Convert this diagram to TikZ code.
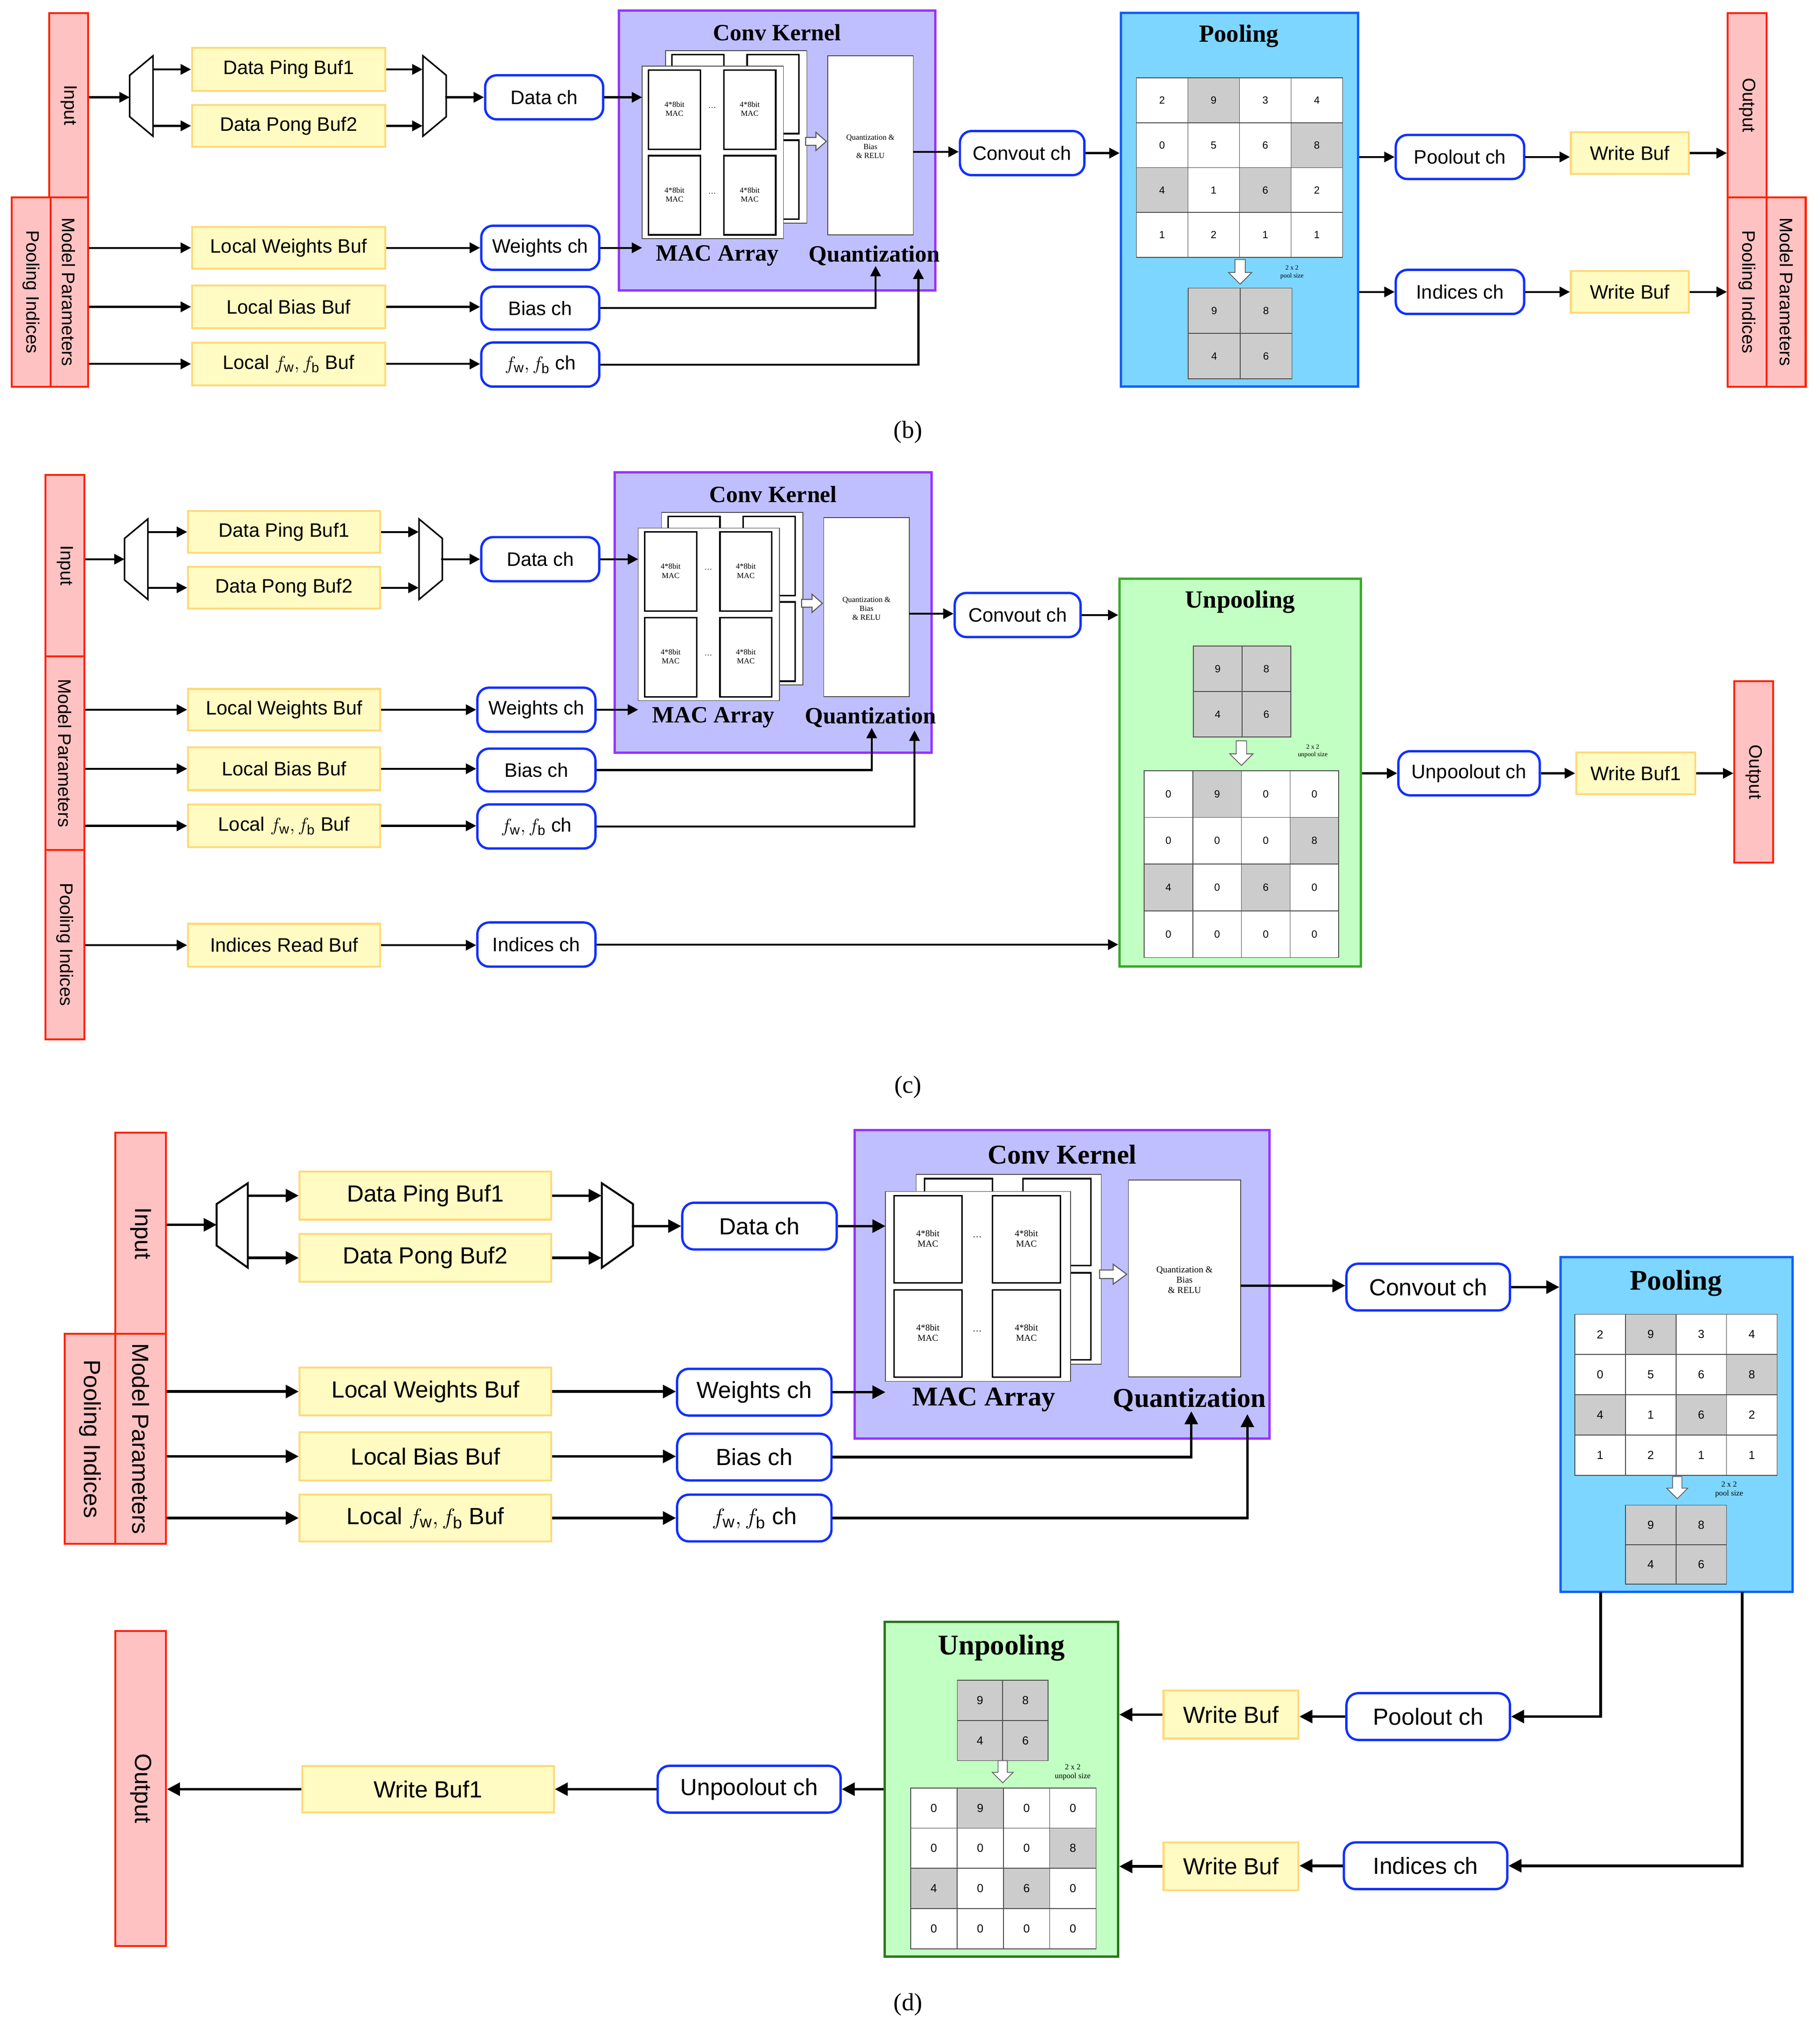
\documentclass[tikz,border=0pt]{standalone}
\usepackage{fontspec}
\setmainfont{Liberation Sans}
\newfontfamily\serifk{Liberation Serif}
\usetikzlibrary{fit,arrows.meta,calc}
\definecolor{pinkf}{HTML}{FFC2C2}\definecolor{redb}{HTML}{FF2200}
\definecolor{yelf}{HTML}{FFFBC2}\definecolor{yelb}{HTML}{FFD97A}
\definecolor{blueb}{HTML}{1030FF}
\definecolor{purf}{HTML}{BFBFFF}\definecolor{purb}{HTML}{9933FF}
\definecolor{poolf}{HTML}{7DD6FF}\definecolor{poolb}{HTML}{1060FF}
\definecolor{unpf}{HTML}{C2FFC2}\definecolor{unpb}{HTML}{3AAA2A}
\definecolor{cellg}{HTML}{CCCCCC}
\tikzset{x=1pt,y=-1pt,
 lbl/.style={draw=redb,fill=pinkf,line width=1.5pt,inner sep=0pt},
 buf/.style={draw=yelb,fill=yelf,line width=1.5pt,inner sep=0pt},
 chn/.style={draw=blueb,fill=white,line width=1.8pt,rounded corners=9pt,inner sep=0pt},
 poolbox/.style={draw=poolb,fill=poolf,line width=1.8pt,inner sep=0pt},
 unpbox/.style={draw=unpb,fill=unpf,line width=1.8pt,inner sep=0pt},
 arr/.style={line width=1.5pt,-{Triangle[length=8pt,width=8pt]}},
 arrd/.style={line width=2pt,-{Triangle[length=10pt,width=10pt]}},
 ln/.style={line width=1.2pt},
 hol/.style={draw=gray!70!black,fill=white,line width=0.6pt}}
\newcommand\bx[7]{\node[#1,fit={(#3,#4)(#5,#6)}] (#2) {};\node at (#2) {#7};}
\newcommand\vl[7]{\node[lbl,fit={(#2,#3)(#4,#5)}] (#1) {};\node[rotate=-90,font=#7] at (#1) {#6};}
\def\poolvals{1/1/2/0,2/1/9/1,3/1/3/0,4/1/4/0,1/2/0/0,2/2/5/0,3/2/6/0,4/2/8/1,1/3/4/1,2/3/1/0,3/3/6/1,4/3/2/0,1/4/1/0,2/4/2/0,3/4/1/0,4/4/1/0}
\def\smallvals{1/1/9/1,2/1/8/1,1/2/4/1,2/2/6/1}
\def\unpvals{1/1/0/0,2/1/9/1,3/1/0/0,4/1/0/0,1/2/0/0,2/2/0/0,3/2/0/0,4/2/8/1,1/3/4/1,2/3/0/0,3/3/6/1,4/3/0/0,1/4/0/0,2/4/0/0,3/4/0/0,4/4/0/0}
\newcommand\numgrid[6]{\foreach \c/\r/\v/\g in #6 {\ifnum\g=1\relax\def\fc{cellg}\else\def\fc{white}\fi
 \draw[draw=gray!60!black,line width=0.6pt,fill=\fc] ({#1+(\c-1)*#3},{#2+(\r-1)*#4}) rectangle ++(#3,#4);
 \node[font=#5] at ({#1+(\c-0.5)*#3},{#2+(\r-0.5)*#4}) {\v};}}
\newcommand\harrD[3]{\draw[hol] (#1,#2) ++(-4*#3,0) -- ++(8*#3,0) -- ++(0,10*#3) -- ++(5*#3,0) -- ++(-9*#3,9*#3) -- ++(-9*#3,-9*#3) -- ++(5*#3,0) -- cycle;}
\newcommand\convk[7]{
 \node[draw=purb,fill=purf,line width=1.8pt,inner sep=0pt,fit={(#2,#3)(#2+244*#4,#3+216*#5)}] (#1k) {};
 \begin{scope}[shift={(#2,#3)},xscale=#4,yscale=#5]
  \foreach \dx/\dy in {18/-12,0/0}{
   \draw[fill=white,draw=gray!60!black,line width=0.6pt] (18+\dx,43+\dy) rectangle (127+\dx,176+\dy);
   \foreach \bx/\by in {23/46,81/46,23/112,81/112}{
    \draw[fill=white,line width=1.2pt] (\bx+\dx,\by+\dy) rectangle (\bx+\dx+40,\by+\dy+61);
    \node[font=#7,align=center] at (\bx+\dx+20,\by+\dy+30) {4*8bit\\MAC};}
   \node[font=#7] at (72+\dx,75+\dy) {\dots};
   \node[font=#7] at (72+\dx,141+\dy) {\dots};}
  \draw[hol,line width=0.8pt] (144,98)--(152,98)--(152,94)--(160,101)--(152,108)--(152,104)--(144,104)--cycle;
  \draw[fill=white,draw=gray!60!black,line width=0.6pt] (161,35) rectangle (227,173);
  \node[font=#7,align=center] at (194,105) {Quantization \&\\Bias\\\& RELU};
  \coordinate (#1f) at (18,0);
  \coordinate (#1b) at (198,197);
  \coordinate (#1c) at (231,199);
  \coordinate (#1o) at (227,109);
 \end{scope}
 \node[font=#6] at ($(#2,#3)+(122*#4,17*#5)$) {Conv Kernel};
 \node[font=#6] at ($(#2,#3)+(76*#4,189*#5)$) {MAC Array};
 \node[font=#6] at ($(#2,#3)+(197*#4,189*#5)$) {Quantization};
}
\begin{document}
\begin{tikzpicture}
\useasboundingbox (0,0) rectangle (1403,1570);
\fill[white] (0,0) rectangle (1403,1570);
%================ (b)
\begin{scope}[font=\fontsize{15}{17}\selectfont]
\vl{inB}{38}{10}{68}{152}{Input}{\fontsize{14}{16}\selectfont}
\vl{mpB}{38}{152}{68}{298}{Model Parameters}{\fontsize{14}{16}\selectfont}
\vl{piB}{9}{152}{39}{298}{Pooling Indices}{\fontsize{14}{16}\selectfont}
\draw[ln,fill=white] (100,58)--(118,43)--(118,105)--(100,90)--cycle;
\coordinate (dmB) at (100,75);
\draw[arr] (inB.east|-dmB) -- (dmB);
\bx{buf}{pingB}{148}{37}{297}{70}{Data Ping Buf1}
\bx{buf}{pongB}{148}{81}{297}{113}{Data Pong Buf2}
\draw[arr] (pingB.west) ++(-29,0) -- (pingB.west);
\draw[arr] (pongB.west) ++(-29,0) -- (pongB.west);
\draw[ln,fill=white] (326,43)--(344,58)--(344,90)--(326,105)--cycle;
\draw[arr] (pingB.east) -- ++(28,0);
\draw[arr] (pongB.east) -- ++(28,0);
\bx{chn}{dataB}{374}{58}{465}{92}{Data ch}
\draw[arr] (dataB.west) ++(-30,0) -- (dataB.west);
\convk{kB}{477}{8}{1}{1}{\serifk\bfseries\fontsize{18}{20}\selectfont}{\serifk\fontsize{6}{7}\selectfont}
\draw[arr] (dataB.east) -- (dataB.east -| kBf);
\bx{buf}{lwB}{148}{175}{297}{207}{Local Weights Buf}
\bx{chn}{wB}{371}{174}{462}{208}{Weights ch}
\draw[arr] (mpB.east|-lwB) -- (lwB.west);
\draw[arr] (lwB.east) -- (lwB.east -| wB.west);
\draw[arr] (wB.east) -- (wB.east -| kBf);
\bx{buf}{lbB}{148}{220}{297}{253}{Local Bias Buf}
\bx{chn}{bB}{371}{221}{462}{254}{Bias ch}
\draw[arr] (mpB.east|-lbB) -- (lbB.west);
\draw[arr] (lbB.east) -- (lbB.east -| bB.west);
\draw[arr] (bB.east) -| (kBb);
\bx{buf}{lfB}{148}{264}{297}{297}{Local $f_{\mathrm{w}},f_{\mathrm{b}}$ Buf}
\bx{chn}{fB}{371}{264}{462}{298}{$f_{\mathrm{w}},f_{\mathrm{b}}$ ch}
\draw[arr] (mpB.east|-lfB) -- (lfB.west);
\draw[arr] (lfB.east) -- (lfB.east -| fB.west);
\draw[arr] (fB.east) -| (kBc);
\bx{chn}{coB}{740}{101}{836}{135}{Convout ch}
\draw[arr] (kBo) -- (coB.west|-kBo);
\bx{poolbox}{plB}{864}{10}{1047}{298}{}
\node[font=\serifk\bfseries\fontsize{19}{21}\selectfont] at (955,28) {Pooling};
\draw[arr] (coB.east) -- (coB.east -| plB.west);
\numgrid{876}{60}{39.75}{34.6}{\fontsize{8}{9}\selectfont}{\poolvals}
\harrD{956}{200}{1}
\node[font=\serifk\fontsize{5}{6}\selectfont,align=center] at (996,210) {2 x 2\\pool size};
\numgrid{916}{222}{40}{35}{\fontsize{8}{9}\selectfont}{\smallvals}
\bx{chn}{poB}{1076}{104}{1175}{138}{Poolout ch}
\bx{chn}{idB}{1076}{208}{1175}{242}{Indices ch}
\draw[arr] (plB.east|-poB) -- (poB.west);
\draw[arr] (plB.east|-idB) -- (idB.west);
\bx{buf}{wb1B}{1211}{102}{1302}{134}{Write Buf}
\bx{buf}{wb2B}{1211}{209}{1302}{241}{Write Buf}
\draw[arr] (poB.east) -- (poB.east -| wb1B.west);
\draw[arr] (idB.east) -- (idB.east -| wb2B.west);
\vl{outB}{1332}{10}{1362}{152}{Output}{\fontsize{14}{16}\selectfont}
\vl{piRB}{1332}{152}{1362}{298}{Pooling Indices}{\fontsize{14}{16}\selectfont}
\vl{mpRB}{1362}{152}{1392}{298}{Model Parameters}{\fontsize{14}{16}\selectfont}
\draw[arr] (wb1B.east) -- (wb1B.east -| outB.west);
\draw[arr] (wb2B.east) -- (wb2B.east -| piRB.west);
\node[font=\serifk\fontsize{19}{21}\selectfont] (capB) at (700,333) {(b)};
%================ (c)
\vl{inC}{35}{366}{65}{506}{Input}{\fontsize{14}{16}\selectfont}
\vl{mpC}{35}{506}{65}{655}{Model Parameters}{\fontsize{14}{16}\selectfont}
\vl{piC}{35}{655}{65}{801}{Pooling Indices}{\fontsize{14}{16}\selectfont}
\draw[ln,fill=white] (96,415)--(114,400)--(114,462)--(96,447)--cycle;
\coordinate (dmC) at (96,431);
\draw[arr] (inC.east|-dmC) -- (dmC);
\bx{buf}{pingC}{145}{394}{293}{426}{Data Ping Buf1}
\bx{buf}{pongC}{145}{437}{293}{469}{Data Pong Buf2}
\draw[arr] (pingC.west) ++(-30,0) -- (pingC.west);
\draw[arr] (pongC.west) ++(-30,0) -- (pongC.west);
\draw[ln,fill=white] (323,400)--(341,415)--(341,447)--(323,462)--cycle;
\draw[arr] (pingC.east) -- ++(29,0);
\draw[arr] (pongC.east) -- ++(29,0);
\bx{chn}{dataC}{371}{414}{462}{448}{Data ch}
\draw[arr] (dataC.west) ++(-30,0) -- (dataC.west);
\convk{kC}{474}{364}{1}{1}{\serifk\bfseries\fontsize{18}{20}\selectfont}{\serifk\fontsize{6}{7}\selectfont}
\draw[arr] (dataC.east) -- (dataC.east -| kCf);
\bx{buf}{lwC}{145}{531}{293}{563}{Local Weights Buf}
\bx{chn}{wC}{368}{530}{459}{564}{Weights ch}
\draw[arr] (mpC.east|-lwC) -- (lwC.west);
\draw[arr] (lwC.east) -- (lwC.east -| wC.west);
\draw[arr] (wC.east) -- (wC.east -| kCf);
\bx{buf}{lbC}{145}{576}{293}{609}{Local Bias Buf}
\bx{chn}{bC}{368}{577}{459}{610}{Bias ch}
\draw[arr] (mpC.east|-lbC) -- (lbC.west);
\draw[arr] (lbC.east) -- (lbC.east -| bC.west);
\draw[arr] (bC.east) -| (kCb);
\bx{buf}{lfC}{145}{620}{293}{653}{Local $f_{\mathrm{w}},f_{\mathrm{b}}$ Buf}
\bx{chn}{fC}{368}{620}{459}{654}{$f_{\mathrm{w}},f_{\mathrm{b}}$ ch}
\draw[arr] (mpC.east|-lfC) -- (lfC.west);
\draw[arr] (lfC.east) -- (lfC.east -| fC.west);
\draw[arr] (fC.east) -| (kCc);
\bx{buf}{irC}{145}{712}{293}{745}{Indices Read Buf}
\bx{chn}{iC}{368}{711}{459}{745}{Indices ch}
\draw[arr] (piC.east|-irC) -- (irC.west);
\draw[arr] (irC.east) -- (irC.east -| iC.west);
\bx{chn}{coC}{736}{457}{833}{491}{Convout ch}
\draw[arr] (kCo) -- (coC.west|-kCo);
\bx{unpbox}{upC}{863}{446}{1049}{745}{}
\node[font=\serifk\bfseries\fontsize{19}{21}\selectfont] at (956,464) {Unpooling};
\draw[arr] (coC.east) -- (coC.east -| upC.west);
\draw[arr] (iC.east) -- (iC.east -| upC.west);
\numgrid{920}{498}{37.5}{35}{\fontsize{8}{9}\selectfont}{\smallvals}
\harrD{957}{571}{1}
\node[font=\serifk\fontsize{5}{6}\selectfont,align=center] at (1012,579) {2 x 2\\unpool size};
\numgrid{882}{594}{37.5}{36}{\fontsize{8}{9}\selectfont}{\unpvals}
\bx{chn}{uoC}{1078}{579}{1187}{613}{Unpoolout ch}
\bx{buf}{wbC}{1215}{580}{1307}{612}{Write Buf1}
\vl{outC}{1337}{525}{1367}{665}{Output}{\fontsize{14}{16}\selectfont}
\draw[arr] (upC.east|-uoC) -- (uoC.west);
\draw[arr] (uoC.east) -- (uoC.east -| wbC.west);
\draw[arr] (wbC.east) -- (wbC.east -| outC.west);
\node[font=\serifk\fontsize{19}{21}\selectfont] (capC) at (700,838) {(c)};
\end{scope}
%================ (d)
\begin{scope}[font=\fontsize{18}{20}\selectfont]
\vl{inD}{89}{873}{128}{1028}{Input}{\fontsize{18}{20}\selectfont}
\vl{mpD}{89}{1028}{128}{1190}{Model Parameters}{\fontsize{18}{20}\selectfont}
\vl{piD}{50}{1028}{89}{1190}{Pooling Indices}{\fontsize{18}{20}\selectfont}
\draw[ln,line width=1.5pt,fill=white] (167,928)--(191,912)--(191,977)--(167,960)--cycle;
\coordinate (dmD) at (167,944);
\draw[arrd] (inD.east|-dmD) -- (dmD);
\bx{buf}{pingD}{231}{903}{425}{940}{Data Ping Buf1}
\bx{buf}{pongD}{231}{951}{425}{988}{Data Pong Buf2}
\draw[arrd] (pingD.west) ++(-40,0) -- (pingD.west);
\draw[arrd] (pongD.west) ++(-40,0) -- (pongD.west);
\draw[ln,line width=1.5pt,fill=white] (464,912)--(488,928)--(488,960)--(464,977)--cycle;
\draw[arrd] (pingD.east) -- ++(38,0);
\draw[arrd] (pongD.east) -- ++(38,0);
\bx{chn}{dataD}{526}{927}{645}{963}{Data ch}
\draw[arrd] (dataD.west) ++(-38,0) -- (dataD.west);
\convk{kD}{659}{871}{1.31}{1.10}{\serifk\bfseries\fontsize{21}{23}\selectfont}{\serifk\fontsize{7}{8}\selectfont}
\draw[arrd] (dataD.east) -- (dataD.east -| kDf);
\bx{buf}{lwD}{231}{1054}{425}{1091}{Local Weights Buf}
\bx{chn}{wD}{522}{1055}{641}{1091}{Weights ch}
\draw[arrd] (mpD.east|-lwD) -- (lwD.west);
\draw[arrd] (lwD.east) -- (lwD.east -| wD.west);
\draw[arrd] (wD.east) -- (wD.east -| kDf);
\bx{buf}{lbD}{231}{1104}{425}{1141}{Local Bias Buf}
\bx{chn}{bD}{522}{1105}{641}{1141}{Bias ch}
\draw[arrd] (mpD.east|-lbD) -- (lbD.west);
\draw[arrd] (lbD.east) -- (lbD.east -| bD.west);
\draw[arrd] (bD.east) -| (kDb);
\bx{buf}{lfD}{231}{1152}{425}{1188}{Local $f_{\mathrm{w}},f_{\mathrm{b}}$ Buf}
\bx{chn}{fD}{522}{1152}{641}{1188}{$f_{\mathrm{w}},f_{\mathrm{b}}$ ch}
\draw[arrd] (mpD.east|-lfD) -- (lfD.west);
\draw[arrd] (lfD.east) -- (lfD.east -| fD.west);
\draw[arrd] (fD.east) -| (kDc);
\bx{chn}{coD}{1038}{974}{1164}{1010}{Convout ch}
\draw[arrd] (kDo) -- (coD.west|-kDo);
\bx{poolbox}{plD}{1203}{969}{1382}{1227}{}
\node[font=\serifk\bfseries\fontsize{22}{24}\selectfont] at (1292,989) {Pooling};
\draw[arrd] (coD.east) -- (coD.east -| plD.west);
\numgrid{1214}{1013}{39}{31}{\fontsize{9}{10}\selectfont}{\poolvals}
\harrD{1293}{1138}{0.9}
\node[font=\serifk\fontsize{6}{7}\selectfont,align=center] at (1333,1148) {2 x 2\\pool size};
\numgrid{1253}{1160}{39}{30.5}{\fontsize{9}{10}\selectfont}{\smallvals}
\bx{chn}{poD}{1038}{1305}{1164}{1341}{Poolout ch}
\bx{chn}{idD}{1036}{1420}{1162}{1456}{Indices ch}
\coordinate (pd1) at (1234,1227);
\coordinate (pd2) at (1343,1227);
\draw[arrd] (pd1) |- (poD.east);
\draw[arrd] (pd2) |- (idD.east);
\bx{buf}{wb1D}{897}{1303}{1001}{1340}{Write Buf}
\bx{buf}{wb2D}{897}{1420}{1001}{1457}{Write Buf}
\draw[arrd] (poD.west) -- (poD.west -| wb1D.east);
\draw[arrd] (idD.west) -- (idD.west -| wb2D.east);
\bx{unpbox}{upD}{682}{1250}{862}{1508}{}
\draw[unpb!70!black,line width=1.8pt] (682,1250) rectangle (862,1508);
\node[font=\serifk\bfseries\fontsize{22}{24}\selectfont] at (772,1270) {Unpooling};
\draw[arrd] (wb1D.west) -- (wb1D.west -| upD.east);
\draw[arrd] (wb2D.west) -- (wb2D.west -| upD.east);
\numgrid{738}{1295}{35}{31}{\fontsize{9}{10}\selectfont}{\smallvals}
\harrD{773}{1357}{0.9}
\node[font=\serifk\fontsize{6}{7}\selectfont,align=center] at (827,1366) {2 x 2\\unpool size};
\numgrid{702}{1378}{35.75}{31}{\fontsize{9}{10}\selectfont}{\unpvals}
\bx{chn}{uoD}{507}{1361}{648}{1397}{Unpoolout ch}
\bx{buf}{wbD}{233}{1361}{427}{1397}{Write Buf1}
\vl{outD}{89}{1257}{128}{1500}{Output}{\fontsize{18}{20}\selectfont}
\draw[arrd] (upD.west|-uoD) -- (uoD.east);
\draw[arrd] (uoD.west) -- (uoD.west -| wbD.east);
\draw[arrd] (wbD.west) -- (wbD.west -| outD.east);
\node[font=\serifk\fontsize{19}{21}\selectfont] (capD) at (700,1545) {(d)};
\end{scope}
\end{tikzpicture}
\end{document}
